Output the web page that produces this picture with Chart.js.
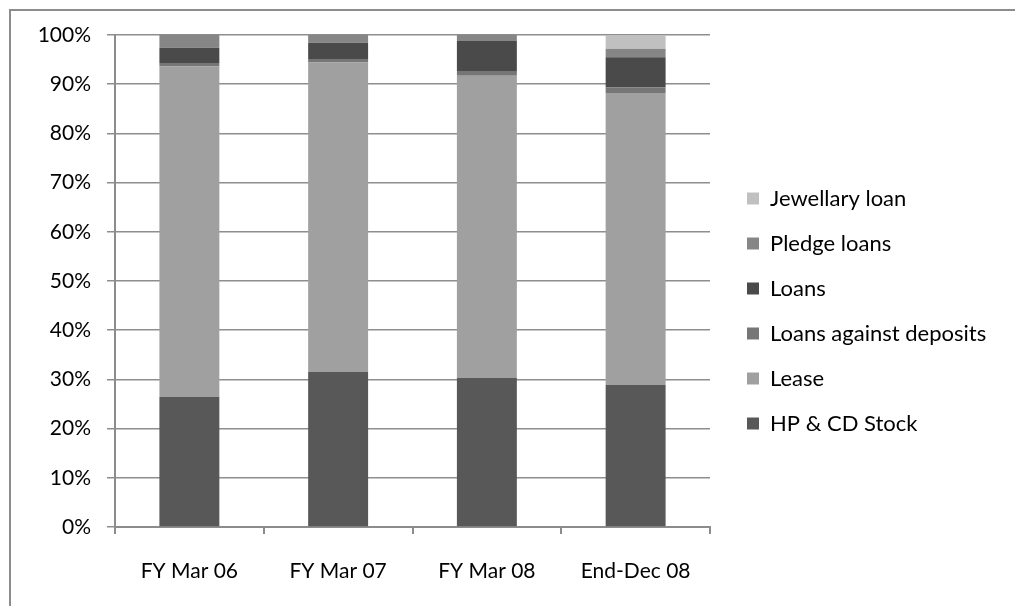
<!DOCTYPE html>
<html lang="en">
<head>
  <meta charset="UTF-8">
  <title>Loan book composition</title>
  <script src="https://cdn.jsdelivr.net/npm/chart.js"></script>
  <style>
    html, body { margin: 0; padding: 0; background: #fff; overflow: hidden; }
    .frame {
      position: absolute; left: 9px; top: 9px;
      width: 1004px; height: 595px;
      border-left: 2px solid #8c8c8c; border-top: 2px solid #8c8c8c;
    }
  </style>
</head>
<body>

<div class="frame">
  <canvas id="chartMix"></canvas>
</div>

<script>
  // === Data (% share of portfolio) ===
  const periods   = ["FY Mar 06", "FY Mar 07", "FY Mar 08", "End-Dec 08"];
  const hpStock   = [26.4, 31.5, 30.3, 28.9];
  const lease     = [67.2, 62.9, 61.4, 59.3];
  const lad       = [0.7, 0.7, 1.0, 1.2];
  const loans     = [3.1, 3.3, 6.1, 6.1];
  const pledge    = [2.6, 1.6, 1.2, 1.7];
  const jewellery = [0, 0, 0, 2.8];
  const yTicks    = [0, 10, 20, 30, 40, 50, 60, 70, 80, 90, 100];

  Chart.defaults.font.family = "Lato";
  Chart.defaults.font.size = 21;
  Chart.defaults.color = "#000";

  // legend keeps a fixed width so the plot area lines up
  const legendWidth = {
    id: "legendWidth",
    beforeLayout(chart) {
      const lg = chart.legend;
      if (lg && !lg._fixed) {
        const fit = lg.fit.bind(lg);
        lg.fit = function () { fit(); this.width = 291; };
        lg._fixed = true;
      }
    }
  };

  new Chart(document.getElementById("chartMix"), {
    type: "bar",
    data: {
      labels: periods,
      datasets: [
        { label: "HP & CD Stock", data: hpStock, backgroundColor: "#585858" },
        { label: "Lease", data: lease, backgroundColor: "#a0a0a0" },
        { label: "Loans against deposits", data: lad, backgroundColor: "#767676" },
        { label: "Loans", data: loans, backgroundColor: "#4a4a4a" },
        { label: "Pledge loans", data: pledge, backgroundColor: "#868686" },
        { label: "Jewellary loan", data: jewellery, backgroundColor: "#c0c0c0" }
      ]
    },
    options: {
      responsive: true,
      maintainAspectRatio: false,
      animation: false,
      categoryPercentage: 1,
      barPercentage: 0.403,
      layout: { padding: { left: 0, top: 24, right: 0, bottom: 19 } },
      plugins: {
        legend: {
          position: "right",
          reverse: true,
          labels: { boxWidth: 12, boxHeight: 12, padding: 23, color: "#000", font: { size: 22 } }
        },
        tooltip: { enabled: false }
      },
      scales: {
        x: {
          stacked: true,
          grid: { drawOnChartArea: false, drawTicks: true, tickLength: 7, color: "#8c8c8c", lineWidth: 2 },
          border: { color: "#8c8c8c", width: 2 },
          ticks: { padding: 25 },
          afterFit(s) { s.height = 60; }
        },
        y: {
          stacked: true,
          min: 0,
          max: 100,
          afterBuildTicks(s) { s.ticks = yTicks.map(v => ({ value: v })); },
          grid: { color: "#8e8e8e", lineWidth: 1.5, tickLength: 8 },
          border: { color: "#8c8c8c", width: 2 },
          ticks: { padding: 16, callback: v => v + "%" },
          afterFit(s) { s.width = 104; s.paddingTop = 0; s.paddingBottom = 0; }
        },
        gap: {
          type: "linear",
          position: "right",
          grid: { display: false },
          border: { display: false },
          ticks: { display: false },
          afterFit(s) { s.width = 14; }
        }
      }
    },
    plugins: [legendWidth]
  });
</script>

</body>
</html>
